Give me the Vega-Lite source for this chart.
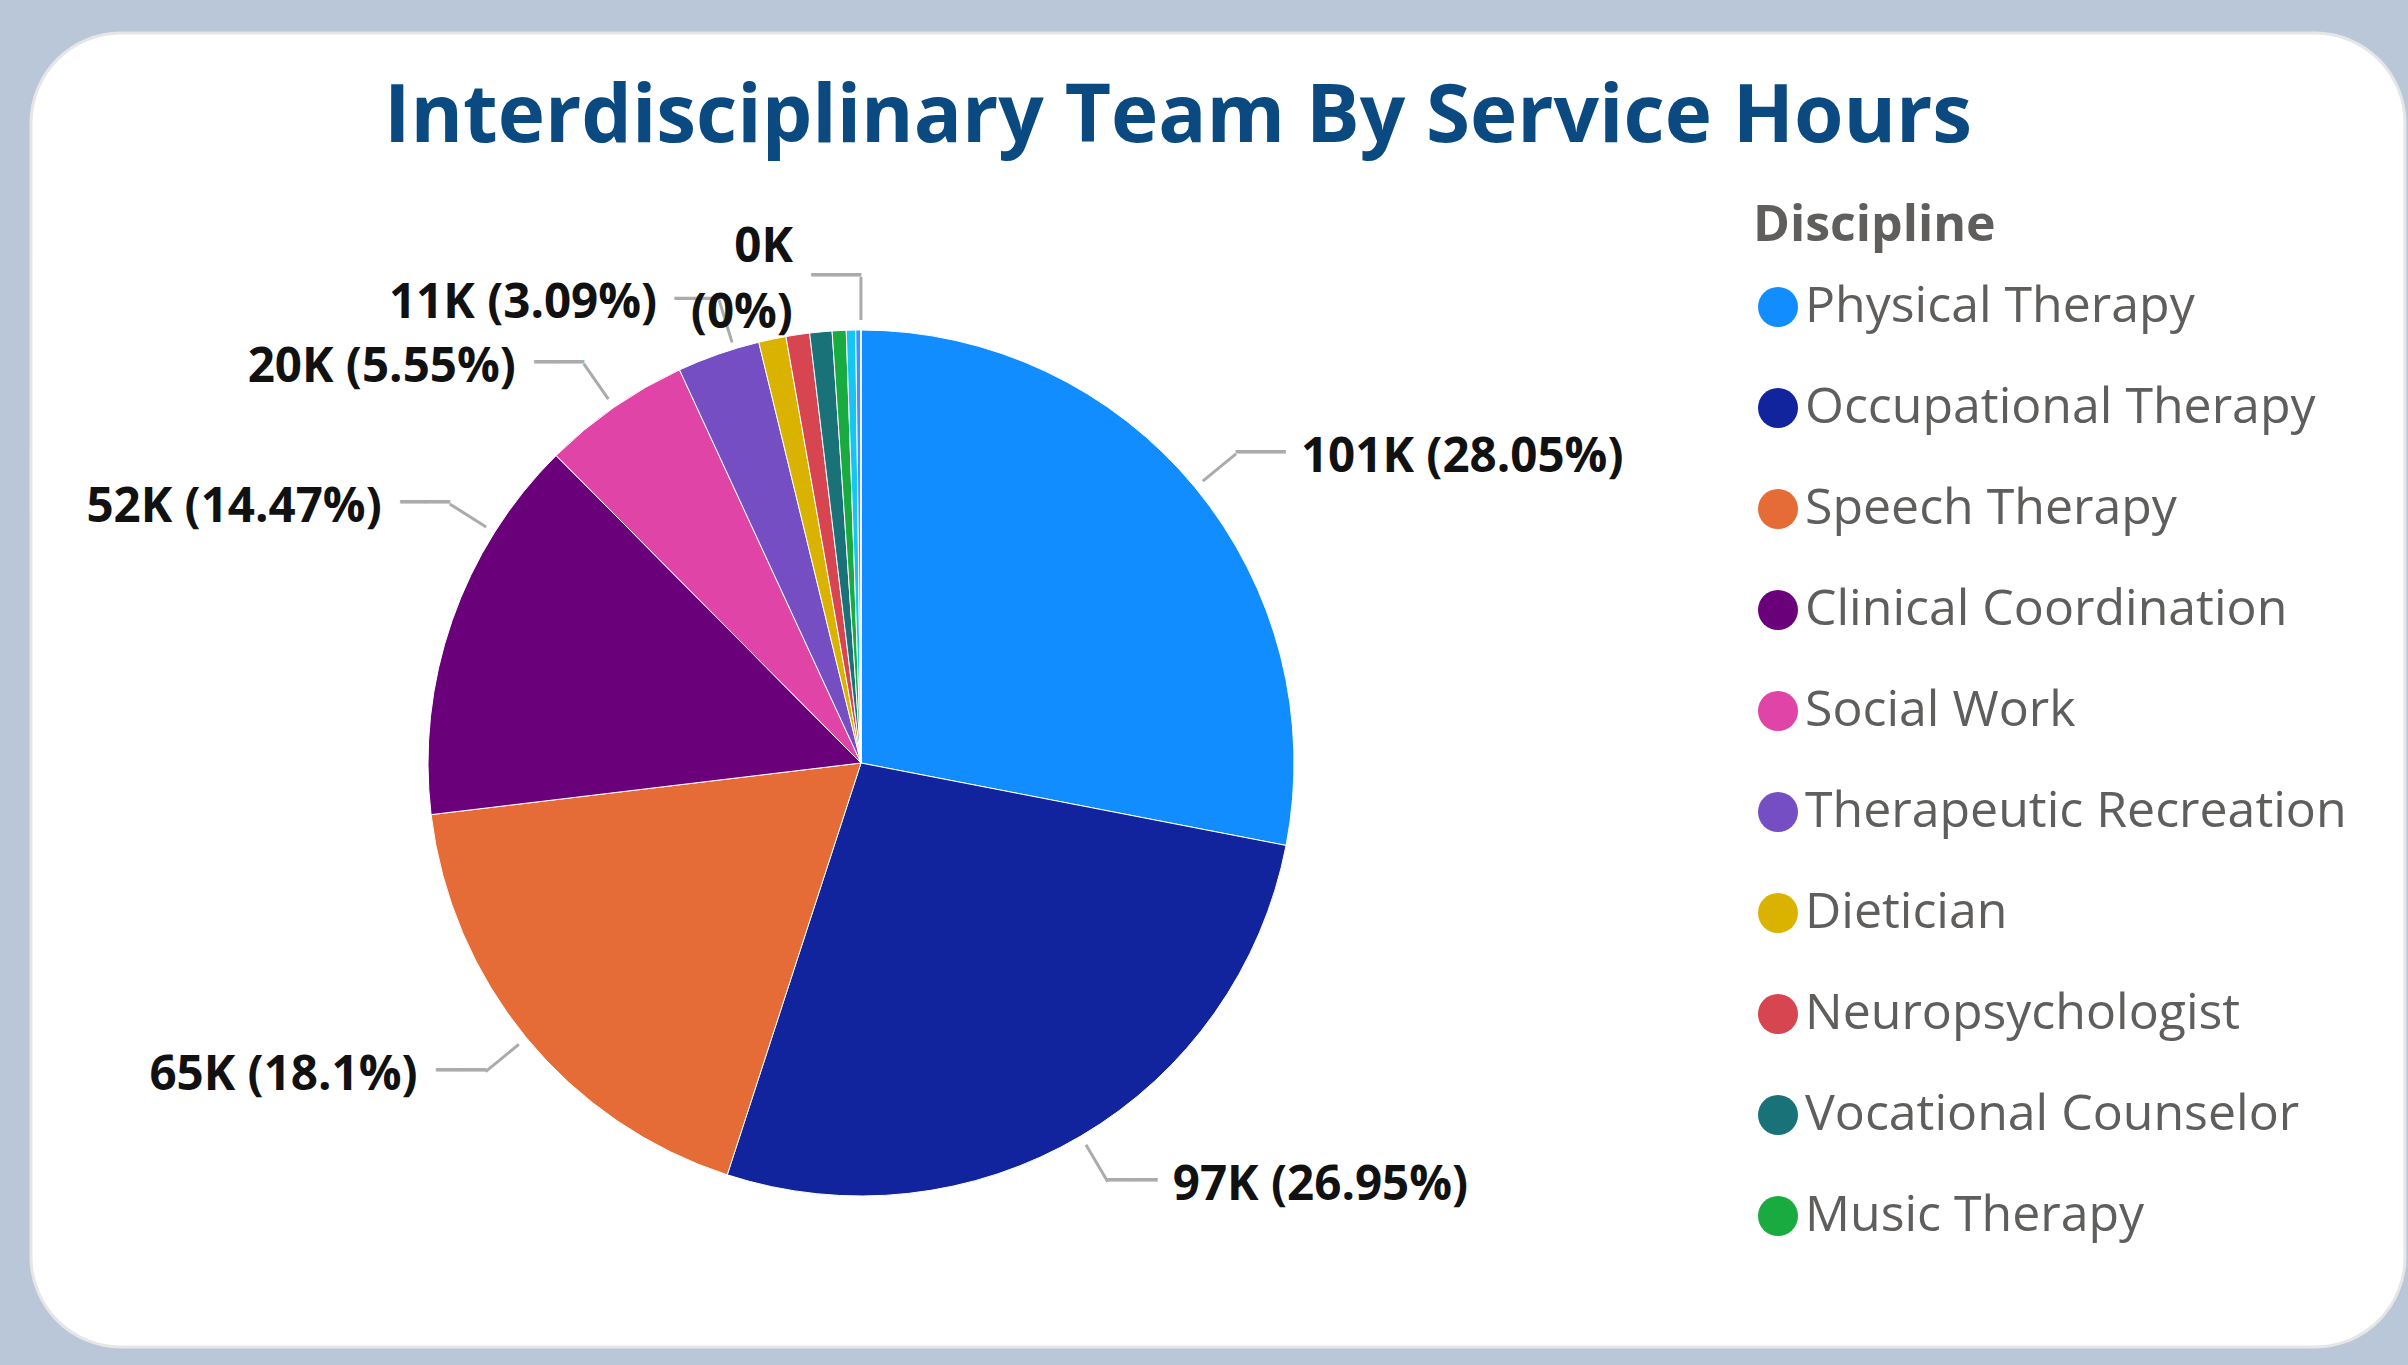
{
  "$schema": "https://vega.github.io/schema/vega-lite/v6.json",
  "width": 2374,
  "height": 1314,
  "autosize": {"type": "none"},
  "padding": {"left": 31, "top": 33, "right": 3, "bottom": 18},
  "background": "#b9c7d9",
  "view": {"fill": "#ffffff", "cornerRadius": 90, "stroke": "#e6e6e6", "strokeWidth": 3},
  "config": {
    "view": {"fill": "#ffffff", "cornerRadius": 90, "stroke": "#e6e6e6", "strokeWidth": 3},
    "font": "Open Sans"
  },
  "title": {
    "text": "Interdisciplinary Team By Service Hours",
    "font": "Open Sans",
    "fontSize": 80,
    "fontWeight": "bold",
    "color": "#0b4a80",
    "anchor": "middle",
    "frame": "group",
    "baseline": "alphabetic",
    "offset": 0,
    "dx": -40,
    "dy": 189
  },
  "data": {
    "values": [
      {"Discipline": "Physical Therapy", "Hours": 100980, "label": "101K (28.05%)"},
      {"Discipline": "Occupational Therapy", "Hours": 97020, "label": "97K (26.95%)"},
      {"Discipline": "Speech Therapy", "Hours": 65160, "label": "65K (18.1%)"},
      {"Discipline": "Clinical Coordination", "Hours": 52092, "label": "52K (14.47%)"},
      {"Discipline": "Social Work", "Hours": 19980, "label": "20K (5.55%)"},
      {"Discipline": "Therapeutic Recreation", "Hours": 11124, "label": "11K (3.09%)"},
      {"Discipline": "Dietician", "Hours": 3672, "label": ""},
      {"Discipline": "Neuropsychologist", "Hours": 3168, "label": ""},
      {"Discipline": "Vocational Counselor", "Hours": 2988, "label": ""},
      {"Discipline": "Music Therapy", "Hours": 1872, "label": ""},
      {"Discipline": "Art Therapy", "Hours": 1260, "label": ""},
      {"Discipline": "Respiratory Therapy", "Hours": 684, "label": ""},
      {"Discipline": "Chaplaincy", "Hours": 12, "label": "0K\n(0%)"}
    ]
  },
  "encoding": {
    "theta": {"field": "Hours", "type": "quantitative", "stack": true},
    "order": {"field": "Hours", "type": "quantitative", "sort": "descending"}
  },
  "layer": [
    {
      "mark": {"type": "arc", "outerRadius": 433, "x": 830, "y": 730, "stroke": "white", "strokeWidth": 1},
      "encoding": {
        "color": {
          "field": "Discipline",
          "type": "nominal",
          "scale": {
            "domain": ["Physical Therapy", "Occupational Therapy", "Speech Therapy", "Clinical Coordination", "Social Work", "Therapeutic Recreation", "Dietician", "Neuropsychologist", "Vocational Counselor", "Music Therapy", "Art Therapy", "Respiratory Therapy", "Chaplaincy"],
            "range": ["#118DFF", "#12239E", "#E66C37", "#6B007B", "#E044A7", "#744EC2", "#D9B300", "#D64550", "#197278", "#1AAB40", "#15C6F4", "#4092FF", "#FFA058"]
          },
          "legend": {
            "values": ["Physical Therapy", "Occupational Therapy", "Speech Therapy", "Clinical Coordination", "Social Work", "Therapeutic Recreation", "Dietician", "Neuropsychologist", "Vocational Counselor", "Music Therapy"],
            "orient": "none",
            "legendX": 1722,
            "legendY": 168,
            "title": "Discipline",
            "titleFont": "Open Sans",
            "titleFontSize": 50,
            "titleFontWeight": "bold",
            "titleColor": "#605e5c",
            "titleLimit": 700,
            "titlePadding": 31,
            "labelFont": "Open Sans",
            "labelFontSize": 50,
            "labelColor": "#605e5c",
            "labelLimit": 700,
            "labelOffset": 2,
            "symbolType": "circle",
            "symbolSize": 1600,
            "symbolStrokeWidth": 0,
            "rowPadding": 51
          }
        }
      }
    },
    {
      "mark": {"type": "arc", "outerRadius": 486, "innerRadius": 443, "padAngle": 3, "x": 830, "y": 730, "filled": false, "stroke": "#ababab", "strokeWidth": 3, "strokeCap": "round"},
      "encoding": {
        "strokeOpacity": {"condition": {"test": "indexof(['Physical Therapy','Occupational Therapy','Speech Therapy','Social Work','Chaplaincy'], datum.Discipline) >= 0", "value": 1}, "value": 0}
      }
    },
    {
      "mark": {"type": "arc", "outerRadius": 486, "innerRadius": 443, "padAngle": 3, "thetaOffset": 0.227, "theta2Offset": 0.227, "x": 830, "y": 730, "filled": false, "stroke": "#ababab", "strokeWidth": 3, "strokeCap": "round"},
      "encoding": {
        "strokeOpacity": {"condition": {"test": "datum.Discipline == 'Clinical Coordination'", "value": 1}, "value": 0}
      }
    },
    {
      "mark": {"type": "arc", "outerRadius": 484, "innerRadius": 440, "padAngle": 3, "thetaOffset": 0.038, "theta2Offset": 0.038, "x": 830, "y": 730, "filled": false, "stroke": "#ababab", "strokeWidth": 3, "strokeCap": "round"},
      "encoding": {
        "strokeOpacity": {"condition": {"test": "datum.Discipline == 'Therapeutic Recreation'", "value": 1}, "value": 0}
      }
    },
    {
      "mark": {"type": "text", "radius": 486, "x": 830, "y": 730, "align": "left", "baseline": "middle", "font": "DejaVu Sans Mono", "fontSize": 41, "color": "#ababab"},
      "encoding": {
        "text": {"condition": {"test": "indexof(['Physical Therapy','Occupational Therapy'], datum.Discipline) >= 0", "value": "\u2500\u2500"}, "value": ""}
      }
    },
    {
      "mark": {"type": "text", "radius": 486, "x": 830, "y": 730, "align": "right", "baseline": "middle", "font": "DejaVu Sans Mono", "fontSize": 41, "color": "#ababab"},
      "encoding": {
        "text": {"condition": {"test": "indexof(['Speech Therapy','Social Work','Chaplaincy'], datum.Discipline) >= 0", "value": "\u2500\u2500"}, "value": ""}
      }
    },
    {
      "mark": {"type": "text", "radius": 486, "thetaOffset": 0.227, "x": 830, "y": 730, "align": "right", "baseline": "middle", "font": "DejaVu Sans Mono", "fontSize": 41, "color": "#ababab"},
      "encoding": {
        "text": {"condition": {"test": "datum.Discipline == 'Clinical Coordination'", "value": "\u2500\u2500"}, "value": ""}
      }
    },
    {
      "mark": {"type": "text", "radius": 484, "thetaOffset": 0.038, "x": 830, "y": 730, "align": "right", "baseline": "middle", "font": "DejaVu Sans Mono", "fontSize": 37, "color": "#ababab"},
      "encoding": {
        "text": {"condition": {"test": "datum.Discipline == 'Therapeutic Recreation'", "value": "\u2500\u2500"}, "value": ""}
      }
    },
    {
      "mark": {"type": "text", "radius": 486, "x": 830, "y": 730, "dx": 65, "dy": 4, "align": "left", "baseline": "middle", "font": "Open Sans", "fontWeight": "bold", "fontSize": 47.5, "color": "#111111"},
      "encoding": {
        "text": {"condition": {"test": "indexof(['Physical Therapy','Occupational Therapy'], datum.Discipline) >= 0", "field": "label"}, "value": ""}
      }
    },
    {
      "mark": {"type": "text", "radius": 486, "x": 830, "y": 730, "dx": -68, "dy": 4, "align": "right", "baseline": "middle", "font": "Open Sans", "fontWeight": "bold", "fontSize": 47.5, "color": "#111111"},
      "encoding": {
        "text": {"condition": {"test": "indexof(['Speech Therapy','Social Work'], datum.Discipline) >= 0", "field": "label"}, "value": ""}
      }
    },
    {
      "mark": {"type": "text", "radius": 486, "x": 830, "y": 730, "dx": -68, "dy": -29, "align": "right", "baseline": "middle", "lineBreak": "\n", "lineHeight": 66, "font": "Open Sans", "fontWeight": "bold", "fontSize": 47.5, "color": "#111111"},
      "encoding": {
        "text": {"condition": {"test": "datum.Discipline == 'Chaplaincy'", "field": "label"}, "value": ""}
      }
    },
    {
      "mark": {"type": "text", "radius": 486, "thetaOffset": 0.227, "x": 830, "y": 730, "dx": -68, "dy": 4, "align": "right", "baseline": "middle", "font": "Open Sans", "fontWeight": "bold", "fontSize": 47.5, "color": "#111111"},
      "encoding": {
        "text": {"condition": {"test": "datum.Discipline == 'Clinical Coordination'", "field": "label"}, "value": ""}
      }
    },
    {
      "mark": {"type": "text", "radius": 484, "thetaOffset": 0.038, "x": 830, "y": 730, "dx": -62, "dy": 4, "align": "right", "baseline": "middle", "font": "Open Sans", "fontWeight": "bold", "fontSize": 47.5, "color": "#111111"},
      "encoding": {
        "text": {"condition": {"test": "datum.Discipline == 'Therapeutic Recreation'", "field": "label"}, "value": ""}
      }
    }
  ]
}
